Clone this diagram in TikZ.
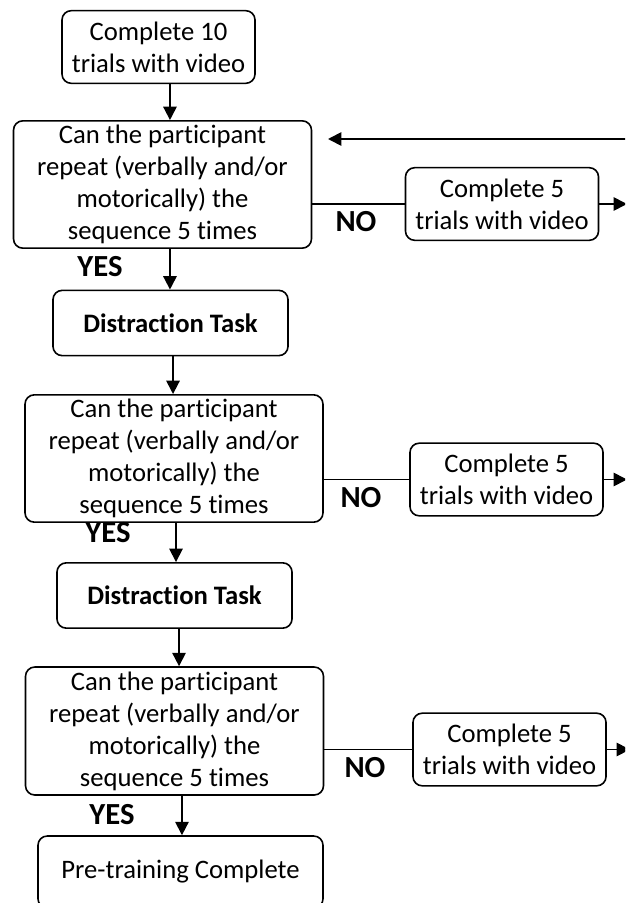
\documentclass[tikz,border=0pt]{standalone}
\usepackage{fontspec}
\setmainfont{Carlito}[Ligatures=NoCommon]
\usetikzlibrary{arrows.meta}

\begin{document}
\begin{tikzpicture}[x=0.75pt, y=-0.75pt, every node/.style={font=\fontsize{20}{24}\selectfont},
    box/.style={draw, line width=1.2pt, rounded corners=7pt, align=center, inner sep=0pt},
    trialbox/.style={box, minimum width=144.8pt, minimum height=54.5pt},
    askbox/.style={box, minimum width=223.5pt, minimum height=95.5pt},
    taskbox/.style={box, minimum width=176.3pt, minimum height=49pt, font=\fontsize{20}{24}\selectfont\bfseries},
    answer/.style={font=\fontsize{23}{28}\selectfont\bfseries},
    arr/.style={line width=1.3pt, -{Triangle[length=10pt, width=10pt]}},
    link/.style={line width=0.9pt}]
    % Fix the page to the picture size
    \useasboundingbox (0,0) rectangle (625,903);
    \clip (0,0) rectangle (625,903);

    % Main column
    \node[trialbox] (start) at (158.5,47) {Complete 10\\trials with video};
    \node[askbox] (ask1) at (162.5,184.5) {Can the participant\\repeat (verbally and/or\\motorically) the\\sequence 5 times};
    \node[taskbox] (task1) at (170.5,323) {Distraction Task};
    \node[askbox] (ask2) at (174,458.5) {Can the participant\\repeat (verbally and/or\\motorically) the\\sequence 5 times};
    \node[taskbox] (task2) at (174.5,595.5) {Distraction Task};
    \node[askbox, minimum height=96pt] (ask3) at (174.5,731) {Can the participant\\repeat (verbally and/or\\motorically) the\\sequence 5 times};
    \node[box, minimum width=213.8pt, minimum height=54pt] (done) at (180.5,872) {Pre-training Complete};

    % Side boxes for NO
    \node[trialbox] (redo1) at (502,204) {Complete 5\\trials with video};
    \node[trialbox] (redo2) at (506.5,479.5) {Complete 5\\trials with video};
    \node[trialbox] (redo3) at (509.5,749.5) {Complete 5\\trials with video};

    % YES / NO labels
    \node[answer] (yes1) at (100,267) {YES};
    \node[answer] (yes2) at (108,533) {YES};
    \node[answer] (yes3) at (112,815) {YES};
    \node[answer] (no1) at (356,222) {NO};
    \node[answer] (no2) at (361,497.5) {NO};
    \node[answer] (no3) at (365,768) {NO};

    % Down arrows
    \draw[arr] ([xshift=8.6pt]start.south) -- ([xshift=8.6pt]start.south |- ask1.north);
    \draw[arr] ([xshift=5.6pt]ask1.south) -- ([xshift=5.6pt]ask1.south |- task1.north);
    \draw[arr] ([xshift=1.9pt]task1.south) -- ([xshift=1.9pt]task1.south |- ask2.north);
    \draw[arr] ([xshift=1.5pt]ask2.south) -- ([xshift=1.5pt]ask2.south |- task2.north);
    \draw[arr] ([xshift=3.4pt]task2.south) -- ([xshift=3.4pt]task2.south |- ask3.north);
    \draw[arr] ([xshift=5.6pt]ask3.south) -- ([xshift=5.6pt]ask3.south |- done.north);

    % NO branches
    \draw[link] (ask1.east |- redo1.west) -- (redo1.west);
    \draw[link] (ask2.east |- redo2.west) -- (redo2.west);
    \draw[link] (ask3.east |- redo3.west) -- (redo3.west);

    % Arrows leaving the side boxes
    \coordinate (out1) at (627,204);
    \coordinate (out2) at (627,479.5);
    \coordinate (out3) at (630,749.5);
    \draw[arr] (redo1.east) -- (out1);
    \draw[arr] (redo2.east) -- (out2);
    \draw[arr] (redo3.east) -- (out3);

    % Return arrow at the top
    \coordinate (back) at (640,139);
    \coordinate (backend) at (328,139);
    \draw[arr] (back) -- (backend);
\end{tikzpicture}
\end{document}
